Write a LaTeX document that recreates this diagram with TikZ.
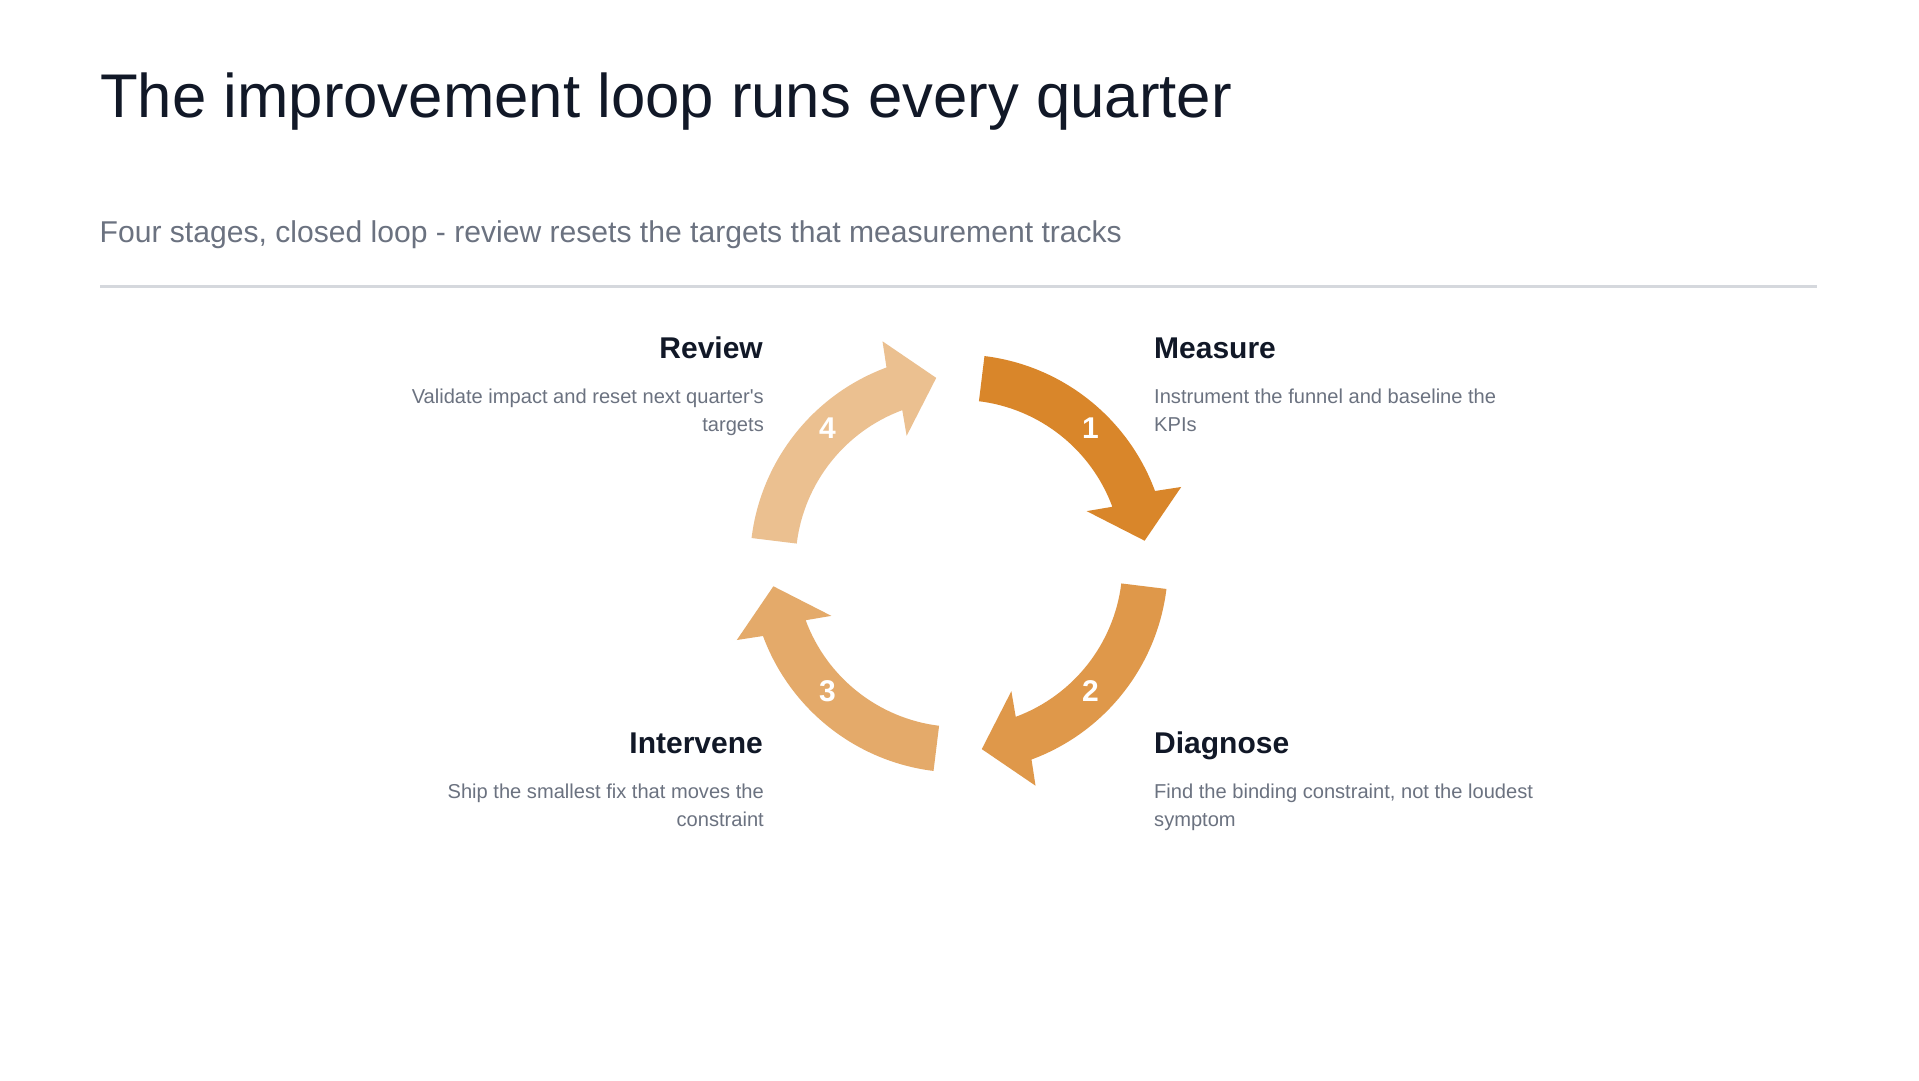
\documentclass[tikz,border=0pt]{standalone}
\usepackage{fontspec}
\setmainfont{Liberation Sans}
\usetikzlibrary{positioning, calc}
\definecolor{textMain}{HTML}{111827}
\definecolor{textMuted}{HTML}{6B7280}
\definecolor{ruleGray}{HTML}{D5D8DD}
\definecolor{loopOrange}{HTML}{D9862A}
\colorlet{stageOne}{loopOrange}
\colorlet{stageTwo}{loopOrange!85!white}
\colorlet{stageThree}{loopOrange!70!white}
\colorlet{stageFour}{loopOrange!52!white}
\tikzset{
  headline/.style={anchor=base west, inner sep=0pt,
    font=\fontsize{61.7}{74}\selectfont, text=textMain},
  subline/.style={anchor=base west, inner sep=0pt,
    font=\fontsize{30.1}{36}\selectfont, text=textMuted},
  stagename/.style={inner sep=0pt,
    font=\fontsize{30}{36}\selectfont\bfseries, text=textMain},
  stagedesc/.style={inner sep=0pt,
    font=\fontsize{20.1}{28}\selectfont, text=textMuted},
  stagenum/.style={inner sep=0pt,
    font=\fontsize{30}{36}\selectfont\bfseries, text=white},
  rulerline/.style={draw=ruleGray, line width=2.5pt},
}

\begin{document}
\begin{tikzpicture}[x=1pt, y=1pt]

  % === Canvas ===
  \fill[white] (0,0) rectangle (1919,1080);
  \useasboundingbox (0,0) rectangle (1919,1080);

  % === Header ===
  \node[headline] (title) at (100,962.7) {The improvement loop runs every quarter};
  \node[subline] (subtitle) at (99.5,837.3) {Four stages, closed loop - review resets the targets that measurement tracks};
  \coordinate (ruleL) at (100,793.3);
  \coordinate (ruleR) at (1817,793.3);
  \draw[rulerline] (ruleL) -- (ruleR);

  % === Loop arrows (clockwise, one per stage) ===
  \coordinate (hub) at (959,516.5);
  \fill[stageOne, shift={(hub)}, rotate=0]
    (83:209) arc[start angle=83, end angle=20.3, radius=209] -- (19:235) -- (7:187)
    -- (22.3:138) -- (20.3:163.5) arc[start angle=20.3, end angle=83, radius=163.5] -- cycle;
  \fill[stageTwo, shift={(hub)}, rotate=-90]
    (83:209) arc[start angle=83, end angle=20.3, radius=209] -- (19:235) -- (7:187)
    -- (22.3:138) -- (20.3:163.5) arc[start angle=20.3, end angle=83, radius=163.5] -- cycle;
  \fill[stageThree, shift={(hub)}, rotate=-180]
    (83:209) arc[start angle=83, end angle=20.3, radius=209] -- (19:235) -- (7:187)
    -- (22.3:138) -- (20.3:163.5) arc[start angle=20.3, end angle=83, radius=163.5] -- cycle;
  \fill[stageFour, shift={(hub)}, rotate=-270]
    (83:209) arc[start angle=83, end angle=20.3, radius=209] -- (19:235) -- (7:187)
    -- (22.3:138) -- (20.3:163.5) arc[start angle=20.3, end angle=83, radius=163.5] -- cycle;

  % Step numbers on the arrows
  \node[stagenum] (numOne) at ([yshift=4]$(hub)+(45:186)$) {1};
  \node[stagenum] (numTwo) at ([yshift=4]$(hub)+(-45:186)$) {2};
  \node[stagenum] (numThree) at ([yshift=4]$(hub)+(-135:186)$) {3};
  \node[stagenum] (numFour) at ([yshift=4]$(hub)+(135:186)$) {4};

  % === Stage labels: right column ===
  \node[stagename, anchor=base west] (measure) at (1154,721) {Measure};
  \node[stagedesc, anchor=base west, align=left] (measureDesc) at ([yshift=-73]measure.base west)
    {Instrument the funnel and baseline the\\KPIs};
  \node[stagename, anchor=base west] (diagnose) at (1154,326.5) {Diagnose};
  \node[stagedesc, anchor=base west, align=left] (diagnoseDesc) at ([yshift=-73]diagnose.base west)
    {Find the binding constraint, not the loudest\\symptom};

  % === Stage labels: left column ===
  \node[stagename, anchor=base east] (review) at (763,721) {Review};
  \node[stagedesc, anchor=base east, align=right] (reviewDesc) at ([yshift=-73, xshift=1]review.base east)
    {Validate impact and reset next quarter\textquotesingle s\\targets};
  \node[stagename, anchor=base east] (intervene) at (763,326.5) {Intervene};
  \node[stagedesc, anchor=base east, align=right] (interveneDesc) at ([yshift=-73, xshift=1]intervene.base east)
    {Ship the smallest fix that moves the\\constraint};

\end{tikzpicture}
\end{document}
